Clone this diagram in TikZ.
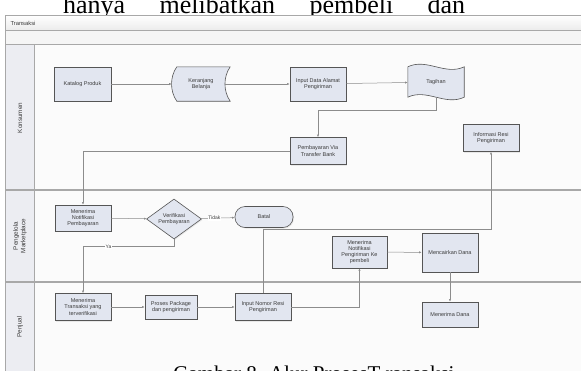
\documentclass[tikz,border=0pt]{standalone}
\usepackage{fontspec}
\setmainfont{Liberation Serif}
\setsansfont{Liberation Sans}
\usetikzlibrary{shapes.geometric,arrows.meta,shadows}

\definecolor{boxfill}{HTML}{E2E6F0}
\definecolor{boxline}{HTML}{555555}
\definecolor{wire}{HTML}{8C8C8C}
\definecolor{laneline}{HTML}{A8A8A8}
\definecolor{lanehead}{HTML}{ECEDF2}
\definecolor{txt}{HTML}{3A3A3A}

\tikzset{
  proc/.style={draw=boxline, fill=boxfill, line width=0.6pt, minimum width=56pt,
    minimum height=27pt, align=center, inner sep=1pt, text=txt,
    font=\sffamily\fontsize{5.5}{6.2}\selectfont,
    drop shadow={shadow xshift=1pt, shadow yshift=-1pt, opacity=0.15}},
  plain/.style={minimum width=56pt, minimum height=34pt, align=center, inner sep=1pt,
    text=txt, font=\sffamily\fontsize{5.5}{6.2}\selectfont},
  decide/.style={proc, diamond, aspect=1.4, minimum width=55pt, minimum height=40pt, inner sep=0pt},
  term/.style={proc, rounded corners=10pt, minimum width=58pt, minimum height=21pt},
  flow/.style={draw=wire, line width=0.5pt, -{Latex[length=2.6pt,width=2.2pt]}},
  tag/.style={fill=white, inner sep=0.6pt, text=txt, font=\sffamily\fontsize{5}{6}\selectfont},
  lanelabel/.style={rotate=90, align=center, text=txt, font=\sffamily\fontsize{6.3}{7.3}\selectfont}
}

\begin{document}
\begin{tikzpicture}[x=1pt,y=-1pt]
  \useasboundingbox (0,0) rectangle (581,370);
  \fill[white] (0,0) rectangle (581,370);

  % text around the figure
  \node[anchor=base west, inner sep=0pt] (atas) at (63,13)
    {\fontsize{26}{30}\selectfont\makebox[402pt][s]{hanya melibatkan pembeli dan}};

  % pool and lanes
  \shade[top color=white, bottom color=gray!15] (5,15) rectangle (590,30);
  \fill[gray!8] (5,30) rectangle (590,44);
  \fill[lanehead] (5,44) rectangle (34,380);
  \fill[white!97!gray] (34,44) rectangle (590,380);
  \draw[laneline, line width=0.7pt] (5,15) rectangle (590,380);
  \draw[laneline, line width=0.6pt] (5,30) -- (590,30);
  \draw[laneline, line width=0.6pt] (5,44) -- (590,44);
  \draw[laneline, line width=0.7pt] (34,44) -- (34,380);
  \draw[laneline, line width=1.1pt] (5,190) -- (590,190);
  \draw[laneline, line width=1.1pt] (5,282) -- (590,282);
  \node[anchor=west, text=txt, font=\sffamily\fontsize{5.8}{6}\selectfont] (judul) at (7,23) {Transaksi};
  \node[lanelabel] (konsumen) at (20,118) {Konsumen};
  \node[lanelabel] (pengelola) at (20,236) {Pengelola\\Marketplace};
  \node[lanelabel] (penjual) at (20,327) {Penjual};

  % Konsumen
  \node[proc, minimum width=57pt, minimum height=34pt] (katalog) at (82.5,84) {Katalog Produk};
  \node[plain, minimum width=58pt] (keranjang) at (201,84) {};
  \draw[draw=boxline, fill=boxfill, line width=0.6pt]
    ([xshift=5pt]keranjang.north west) -- (keranjang.north east)
    .. controls +(-7,10) and +(-7,-10) .. (keranjang.south east)
    -- ([xshift=5pt]keranjang.south west)
    .. controls +(-7,-10) and +(-7,10) .. ([xshift=5pt]keranjang.north west);
  \node[plain] at (keranjang.center) {Keranjang\\Belanja};
  \node[proc, minimum height=34pt] (alamat) at (318,84) {Input Data Alamat\\Pengiriman};
  \node[plain, minimum height=30pt] (tagihan) at (436,82) {};
  \draw[draw=boxline, fill=boxfill, line width=0.6pt]
    (tagihan.north west) .. controls +(19,-9) and +(-19,9) .. (tagihan.north east)
    -- (tagihan.south east) .. controls +(-19,9) and +(19,-9) .. (tagihan.south west)
    -- cycle;
  \node[plain, minimum height=30pt] at (tagihan.center) {Tagihan};
  \node[proc] (bayar) at (318,151) {Pembayaran Via\\Transfer Bank};
  \node[proc] (inforesi) at (491,138) {Informasi Resi\\Pengiriman};

  % Pengelola Marketplace
  \node[proc, minimum height=26pt] (notifbayar) at (83,218) {Menerima\\Notifikasi\\Pembayaran};
  \node[decide] (verif) at (174,219) {Verifikasi\\Pembayaran};
  \node[term] (batal) at (264,217) {Batal};
  \node[proc, minimum width=55pt, minimum height=32pt] (notifkirim) at (359.5,252)
    {Menerima\\Notifikasi\\Pengiriman Ke\\pembeli};
  \node[proc, minimum height=39pt] (cairkan) at (450,252.5) {Mencairkan Dana};

  % Penjual
  \node[proc] (terimatrans) at (83,307) {Menerima\\Transaksi yang\\terverifikasi};
  \node[proc, minimum width=52pt, minimum height=24pt] (proses) at (171,307) {Proses Package\\dan pengiriman};
  \node[proc] (inputresi) at (263,307) {Input Nomor Resi\\Pengiriman};
  \node[proc, minimum height=25pt] (terimadana) at (450,314.5) {Menerima Dana};

  % alur
  \draw[flow] (katalog) -- (keranjang);
  \draw[flow] ([xshift=-5pt]keranjang.east) -- (alamat);
  \draw[flow] (alamat) -- (tagihan);
  \draw[flow] (tagihan.south) -- ++(0,13) -| (bayar);
  \draw[flow] (bayar.west) -| (notifbayar);
  \draw[flow] (notifbayar) -- (verif);
  \draw[flow] (verif) -- node[tag, pos=0.4] {Tidak} (batal);
  \draw[flow] (verif.south) -- ++(0,7) -| node[tag, pos=0.36] {Ya} (terimatrans);
  \draw[flow] (terimatrans) -- (proses);
  \draw[flow] (proses) -- (inputresi);
  \draw[flow] (inputresi.north) -- ++(0,-64) -| (inforesi);
  \draw[flow] (inputresi.east) -| (notifkirim);
  \draw[flow] (notifkirim) -- (cairkan);
  \draw[flow] (cairkan) -- (terimadana);

  \node[anchor=base, inner sep=0pt] (caption) at (314,380)
    {\fontsize{21}{24}\selectfont Gambar 8. Alur ProsesT ransaksi};
\end{tikzpicture}
\end{document}
